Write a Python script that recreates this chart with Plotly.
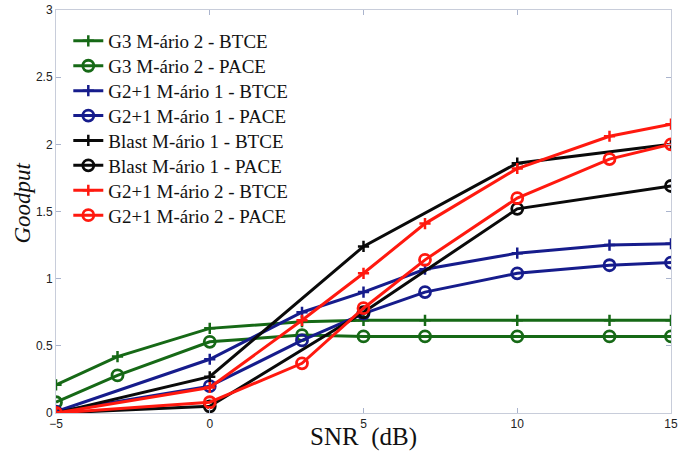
import plotly.graph_objects as go

# SNR sample points (dB) for each configuration
snr_g3 = [-5, -3, 0, 3, 5, 7, 10, 13, 15]
snr_g21 = [-5, 0, 3, 5, 7, 10, 13, 15]
snr_blast = [-5, 0, 5, 10, 15]

# Goodput values
g3_m2_btce = [0.21, 0.42, 0.63, 0.68, 0.69, 0.69, 0.69, 0.69, 0.69]
g3_m2_pace = [0.08, 0.28, 0.53, 0.58, 0.57, 0.57, 0.57, 0.57, 0.57]
g21_m1_btce = [0.01, 0.40, 0.75, 0.90, 1.07, 1.19, 1.25, 1.26]
g21_m1_pace = [0.01, 0.20, 0.54, 0.74, 0.90, 1.04, 1.10, 1.12]
blast_m1_btce = [0.0, 0.27, 1.24, 1.86, 2.00]
blast_m1_pace = [0.0, 0.05, 0.75, 1.52, 1.69]
g21_m2_btce = [0.0, 0.19, 0.69, 1.04, 1.41, 1.82, 2.06, 2.15]
g21_m2_pace = [0.0, 0.08, 0.37, 0.78, 1.14, 1.60, 1.89, 2.00]

series_names = [
    "G3 M-ário 2 - BTCE",
    "G3 M-ário 2 - PACE",
    "G2+1 M-ário 1 - BTCE",
    "G2+1 M-ário 1 - PACE",
    "Blast M-ário 1 - BTCE",
    "Blast M-ário 1 - PACE",
    "G2+1 M-ário 2 - BTCE",
    "G2+1 M-ário 2 - PACE",
]

GREEN = "rgb(22,105,22)"
BLUE = "rgb(22,28,140)"
BLACK = "rgb(10,10,10)"
RED = "rgb(255,25,15)"

series = [
    (snr_g3, g3_m2_btce, GREEN, "plus"),
    (snr_g3, g3_m2_pace, GREEN, "circle"),
    (snr_g21, g21_m1_btce, BLUE, "plus"),
    (snr_g21, g21_m1_pace, BLUE, "circle"),
    (snr_blast, blast_m1_btce, BLACK, "plus"),
    (snr_blast, blast_m1_pace, BLACK, "circle"),
    (snr_g21, g21_m2_btce, RED, "plus"),
    (snr_g21, g21_m2_pace, RED, "circle"),
]

SERIF = "Liberation Serif, Times New Roman, serif"

# Figure geometry (pixels) used to place the stacked legend rows
FIG_W, FIG_H = 691, 453
M_L, M_R, M_T, M_B = 56, 20, 10, 40
PLOT_H = FIG_H - M_T - M_B
LEGEND_TOP_ROW = 41
LEGEND_ROW_STEP = 24.9

fig = go.Figure()
legend_layouts = {}
for i, (name, (xs, ys, color, kind)) in enumerate(zip(series_names, series)):
    if kind == "plus":
        marker = dict(symbol="cross-thin", size=8, color=color,
                      line=dict(color=color, width=2.5))
    else:
        marker = dict(symbol="circle-open", size=11, color=color,
                      line=dict(color=color, width=2.8))
    legend_id = "legend" if i == 0 else f"legend{i + 1}"
    fig.add_trace(go.Scatter(
        x=xs, y=ys, name=name, mode="lines+markers",
        line=dict(color=color, width=3),
        marker=marker,
        legend=legend_id,
    ))
    row_px = LEGEND_TOP_ROW + i * LEGEND_ROW_STEP
    legend_layouts[legend_id] = dict(
        x=0.02, y=(FIG_H - M_B - row_px) / PLOT_H,
        xanchor="left", yanchor="middle",
        bgcolor="rgba(0,0,0,0)", borderwidth=0,
        font=dict(family=SERIF, size=19, color="#111"),
    )

axis_common = dict(
    showgrid=False, zeroline=False, automargin=False,
    showline=True, linecolor="rgb(200,205,218)", linewidth=1, mirror="ticks",
    ticks="inside", ticklen=5, tickcolor="rgb(170,180,205)",
    tickfont=dict(family="Liberation Sans, Arial, sans-serif", size=12, color="#222"),
)

fig.update_layout(
    width=FIG_W, height=FIG_H,
    margin=dict(l=M_L, r=M_R, t=M_T, b=M_B),
    paper_bgcolor="white", plot_bgcolor="white",
    showlegend=True,
    xaxis=dict(range=[-5, 15], tickvals=[-5, 0, 5, 10, 15],
               ticktext=["\u22125", "0", "5", "10", "15"], **axis_common),
    yaxis=dict(range=[0, 3], tickvals=[0, 0.5, 1, 1.5, 2, 2.5, 3],
               ticktext=["0", "0.5", "1", "1.5", "2", "2.5", "3"], **axis_common),
    annotations=[
        dict(text="SNR  (dB)", xref="paper", yref="paper", x=0.5, y=-0.06,
             xanchor="center", yanchor="middle", showarrow=False,
             font=dict(family=SERIF, size=25, color="#111")),
        dict(text="<i>Goodput</i>", xref="paper", yref="paper", x=-0.055, y=0.52,
             xanchor="center", yanchor="middle", textangle=-90, showarrow=False,
             font=dict(family=SERIF, size=23, color="#111")),
    ],
)
fig.update_layout(**legend_layouts)

fig.write_html("out.html")
